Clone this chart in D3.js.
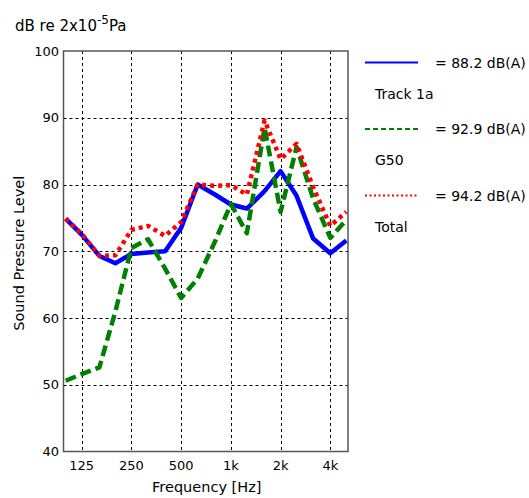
<!DOCTYPE html>
<html>
<head>
<meta charset="utf-8">
<script src="https://cdn.jsdelivr.net/npm/d3@7"></script>
<style>
  body { margin: 0; background: #fff; }
  svg { display: block; font-family: "DejaVu Sans", sans-serif; }
</style>
</head>
<body>
<svg id="chart" width="529" height="498"></svg>
<script>
  // third-octave band centres (Hz)
  const freqs = [100, 125, 160, 200, 250, 315, 400, 500, 630, 800, 1000, 1250, 1600, 2000, 2500, 3150, 4000, 5000];

  // levels, dB
  const track1a = [74.9, 72.5, 69.3, 68.2, 69.6, 69.8, 70.0, 73.5, 80.0, 78.5, 77.0, 76.4, 79.0, 82.0, 78.3, 71.9, 69.7, 71.6];
  const g50 = [50.6, 51.6, 52.6, 61.0, 70.5, 71.8, 67.4, 63.0, 65.9, 71.4, 77.1, 72.7, 88.5, 75.9, 85.6, 77.9, 72.0, 74.7];
  const total = [74.9, 72.6, 69.3, 69.4, 73.2, 73.8, 72.3, 74.4, 80.0, 79.8, 79.9, 78.5, 89.6, 83.8, 86.1, 79.6, 73.8, 75.9];

  const xTicks = [125, 250, 500, 1000, 2000, 4000];
  const xTickLabels = ['125', '250', '500', '1k', '2k', '4k'];
  const yTicks = [40, 50, 60, 70, 80, 90, 100];

  const seriesNames = ['Track 1a', 'G50', 'Total'];
  const seriesTotals = ['= 88.2 dB(A)', '= 92.9 dB(A)', '= 94.2 dB(A)'];

  const svg = d3.select('#chart');
  const plotL = 63.5, plotR = 348, plotT = 51, plotB = 451.5;

  const x = d3.scaleLog().domain([97, 5120]).range([plotL, plotR]);
  const y = d3.scaleLinear().domain([40, 100]).range([plotB, plotT]);

  // grid
  const grid = svg.append('g').attr('stroke', '#000').attr('stroke-width', 1).attr('stroke-dasharray', '3,3');
  grid.selectAll('.vg').data(xTicks).enter().append('line')
    .attr('x1', d => Math.round(x(d)) + 0.5).attr('x2', d => Math.round(x(d)) + 0.5)
    .attr('y1', plotT).attr('y2', plotB);
  grid.selectAll('.hg').data(yTicks.slice(1, -1)).enter().append('line')
    .attr('y1', d => Math.round(y(d)) + 0.5).attr('y2', d => Math.round(y(d)) + 0.5)
    .attr('x1', plotL).attr('x2', plotR);

  // curves
  const line = d3.line().x((d, i) => x(freqs[i])).y(d => y(d));
  const styles = [
    { data: track1a, color: '#0000ff', dash: null },
    { data: g50, color: '#008000', dash: '11,5' },
    { data: total, color: '#ff0000', dash: '4,4' }
  ];

  svg.append('clipPath').attr('id', 'clip').append('rect')
    .attr('x', plotL).attr('y', plotT).attr('width', plotR - plotL).attr('height', plotB - plotT);

  const curves = svg.append('g').attr('clip-path', 'url(#clip)');
  styles.forEach(s => {
    curves.append('path')
      .attr('d', line(s.data))
      .attr('fill', 'none')
      .attr('stroke', s.color)
      .attr('stroke-width', 4.5)
      .attr('stroke-linejoin', 'round')
      .attr('stroke-dasharray', s.dash);
  });

  // frame
  svg.append('rect')
    .attr('x', plotL).attr('y', plotT).attr('width', plotR - plotL).attr('height', plotB - plotT)
    .attr('fill', 'none').attr('stroke', '#555').attr('stroke-width', 1.5);

  // axes labels
  svg.append('g').selectAll('text').data(yTicks).enter().append('text')
    .attr('x', 59).attr('y', d => y(d)).attr('dy', '0.36em')
    .attr('text-anchor', 'end').attr('font-size', 13).text(d => d);

  svg.append('g').selectAll('text').data(xTicks).enter().append('text')
    .attr('x', d => x(d)).attr('y', 470)
    .attr('text-anchor', 'middle').attr('font-size', 13).text((d, i) => xTickLabels[i]);

  svg.append('text').attr('x', (plotL + plotR) / 2 + 1).attr('y', 492)
    .attr('text-anchor', 'middle').attr('font-size', 14.5).text('Frequency [Hz]');

  svg.append('text').attr('transform', 'translate(24,' + ((plotT + plotB) / 2 + 2) + ') rotate(-90)')
    .attr('text-anchor', 'middle').attr('font-size', 14.5).text('Sound Pressure Level');

  const title = svg.append('text').attr('x', 15).attr('y', 31).attr('font-size', 15);
  title.append('tspan').text('dB re 2x10');
  title.append('tspan').attr('dy', -7).attr('font-size', 12).text('-5');
  title.append('tspan').attr('dy', 7).text('Pa');

  // legend
  const legendY = [62.5, 129, 195.5];
  const legendDash = [null, '5,3', '2,2.5'];
  const legend = svg.append('g');
  styles.forEach((s, i) => {
    legend.append('line')
      .attr('x1', 365).attr('x2', 418).attr('y1', legendY[i]).attr('y2', legendY[i])
      .attr('stroke', s.color).attr('stroke-width', 2).attr('stroke-dasharray', legendDash[i]);
    legend.append('text').attr('x', 435).attr('y', legendY[i]).attr('dy', '0.36em')
      .attr('font-size', 14).text(seriesTotals[i]);
    legend.append('text').attr('x', 375).attr('y', legendY[i] + 31).attr('dy', '0.36em')
      .attr('font-size', 14).text(seriesNames[i]);
  });
</script>
</body>
</html>
